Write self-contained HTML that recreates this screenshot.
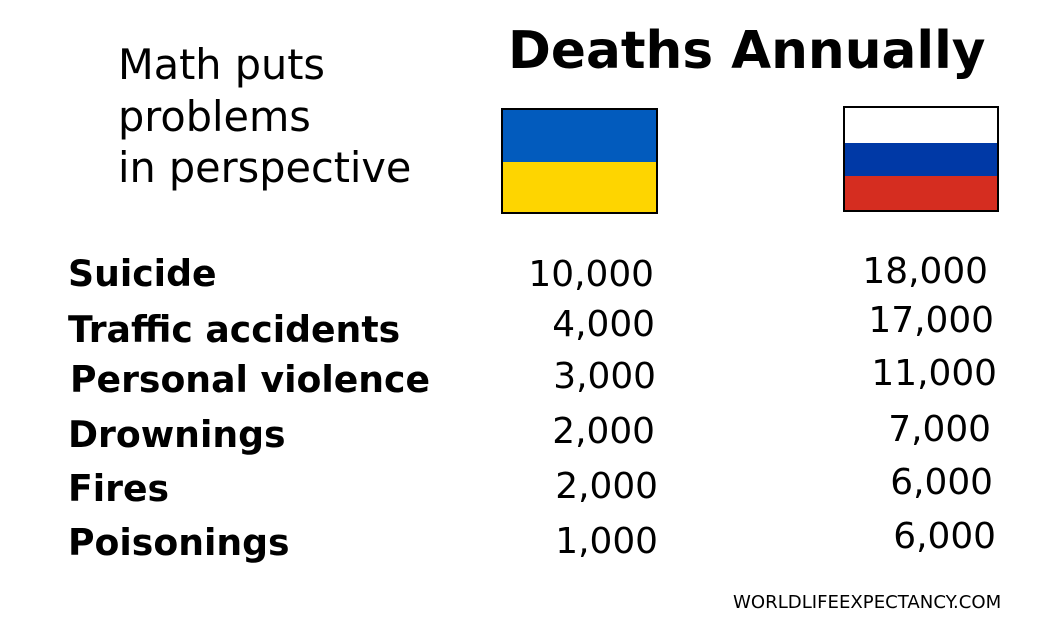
<!DOCTYPE html>
<html><head><meta charset="utf-8"><style>
body{margin:0;width:1063px;height:626px;background:#fff;position:relative;overflow:hidden;font-family:"DejaVu Sans","Liberation Sans",sans-serif;color:#000}
div{position:absolute;white-space:nowrap;line-height:1}
.l{font-weight:bold;font-size:36.2px;left:68px}
.n{font-size:35.9px;text-align:right;width:200px}
</style></head><body>
<div style="left:508px;top:26px;font-size:51.7px;font-weight:bold">Deaths Annually</div>
<div style="left:118px;top:40px;font-size:41.4px;line-height:51.5px;white-space:normal;width:340px">Math puts<br>problems<br>in perspective</div>
<div style="left:501px;top:108px;width:153px;height:102px;border:2px solid #000;background:linear-gradient(#025bbd 0 52px,#fed500 52px)"></div>
<div style="left:843px;top:106px;width:152px;height:102px;border:2px solid #000;background:linear-gradient(#fff 0 35px,#0039a6 35px 68px,#d52d20 68px)"></div>
<div class="l" style="top:256px">Suicide</div>
<div class="l" style="top:312px">Traffic accidents</div>
<div class="l" style="top:362px;left:70px">Personal violence</div>
<div class="l" style="top:417px">Drownings</div>
<div class="l" style="top:471px">Fires</div>
<div class="l" style="top:525px">Poisonings</div>
<div class="n" style="left:454px;top:257px">10,000</div>
<div class="n" style="left:455px;top:307px">4,000</div>
<div class="n" style="left:456px;top:359px">3,000</div>
<div class="n" style="left:455px;top:414px">2,000</div>
<div class="n" style="left:458px;top:469px">2,000</div>
<div class="n" style="left:458px;top:524px">1,000</div>
<div class="n" style="left:788px;top:254px">18,000</div>
<div class="n" style="left:794px;top:303px">17,000</div>
<div class="n" style="left:797px;top:356px">11,000</div>
<div class="n" style="left:791px;top:412px">7,000</div>
<div class="n" style="left:793px;top:465px">6,000</div>
<div class="n" style="left:796px;top:519px">6,000</div>
<div style="left:733px;top:594px;font-size:18.1px">WORLDLIFEEXPECTANCY.COM</div>
</body></html>
